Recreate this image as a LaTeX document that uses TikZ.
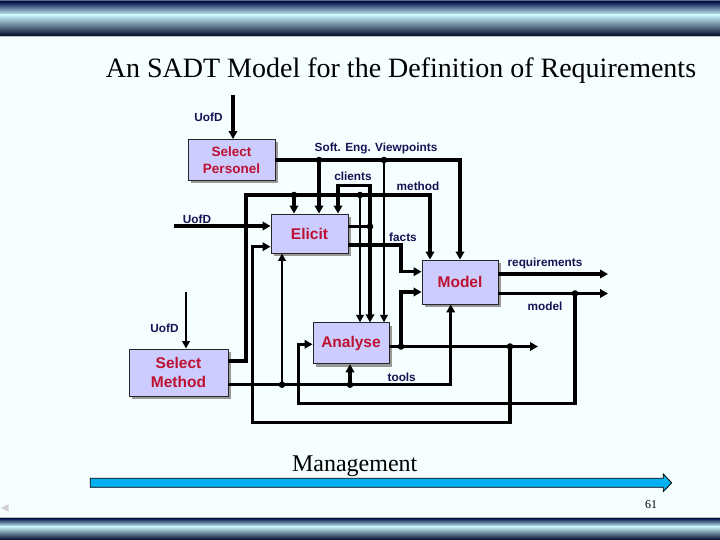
\documentclass[tikz,border=0pt]{standalone}
\usepackage{fontspec}
\setmainfont{Liberation Serif}
\setsansfont{Liberation Sans}
\usetikzlibrary{arrows.meta,shadows}
\definecolor{bgc}{RGB}{246,255,255}
\definecolor{boxc}{RGB}{204,204,255}
\definecolor{redt}{RGB}{190,16,48}
\definecolor{navyt}{RGB}{20,20,85}
\definecolor{barnavy}{RGB}{10,26,78}
\definecolor{barlight}{RGB}{200,244,250}
\definecolor{bardark}{RGB}{0,8,40}
\definecolor{bargray}{RGB}{95,108,140}
\definecolor{mgmt}{RGB}{0,176,240}
\begin{document}
\begin{tikzpicture}[x=1pt,y=-1pt,
  proc/.style={draw=black!85, line width=0.9pt, fill=boxc, inner sep=0pt, align=center, text=redt,
    font=\sffamily\bfseries\fontsize{15.5}{18.3}\selectfont,
    drop shadow={shadow xshift=3pt, shadow yshift=-3pt, fill=black!40, opacity=1}},
  lbl/.style={text=navyt, font=\sffamily\bfseries\fontsize{11.8}{13}\selectfont, inner sep=0pt, text height=8.5pt, text depth=0pt},
  con/.style={line width=3.2pt, -{Triangle[length=8pt,width=8.5pt]}},
  conthin/.style={line width=2.2pt, -{Triangle[length=7.5pt,width=7.5pt]}},
  wire/.style={line width=3.2pt},
  dot/.style={fill=black},
]
\useasboundingbox (0,0) rectangle (720,540);
\fill[bgc] (0,0) rectangle (720,540);
% top bar
\fill[bargray] (0,0) rectangle (720,2);
\shade[top color=barnavy, bottom color=barlight] (0,2) rectangle (720,15);
\shade[top color=barlight, bottom color=bardark] (0,15) rectangle (720,36);
\fill[black!25] (0,36) rectangle (720,37.5);
% bottom bar
\fill[black!25] (0,517) rectangle (720,518.5);
\shade[top color=barnavy, bottom color=barlight] (0,518.5) rectangle (720,526.5);
\shade[top color=barlight, bottom color=bardark] (0,526.5) rectangle (720,540);
\fill[black!18] (1,507.8) -- (8.5,504) -- (8.5,511.7) -- cycle;

% title
\node[anchor=base, inner sep=0pt, font=\fontsize{28}{32}\selectfont] (title) at (401,78) {An SADT Model for the Definition of Requirements};

% boxes
\node[proc, minimum width=87pt, minimum height=41pt, font=\sffamily\bfseries\fontsize{13.5}{16.7}\selectfont] (SP) at (231.5,160) {Select\\Personel};
\node[proc, minimum width=77pt, minimum height=39pt] (EL) at (309.5,233.5) {Elicit};
\node[proc, minimum width=76pt, minimum height=44pt] (MO) at (460,282) {Model};
\node[proc, minimum width=76pt, minimum height=41pt] (AN) at (351,343.3) {Analyse};
\node[proc, minimum width=99pt, minimum height=47pt] (SM) at (178.5,372.5) {Select\\Method};

% labels
\node[lbl] (lU1) at (208.5,117) {UofD};
\node[lbl] (lSEV) at (376,147.7) {Soft. Eng. Viewpoints};
\node[lbl] (lcl) at (353,176.7) {clients};
\node[lbl] (lme) at (418,186.7) {method};
\node[lbl] (lU2) at (197,219.3) {UofD};
\node[lbl] (lfa) at (403,237.7) {facts};
\node[lbl] (lrq) at (545,262.7) {requirements};
\node[lbl] (lmo) at (545,306) {model};
\node[lbl] (lU3) at (164.5,328.3) {UofD};
\node[lbl] (lto) at (401.7,377.3) {tools};

% coordinates
\coordinate (u1) at (233,95);
\coordinate (u2) at (174,226);
\coordinate (u3) at (186,292);
\coordinate (sev1) at (319,160);
\coordinate (sev2) at (384,160);
\coordinate (sevc) at (460,160);
\coordinate (mA) at (246,361);
\coordinate (mB) at (246,195);
\coordinate (met1) at (294,195);
\coordinate (met2) at (360,195);
\coordinate (mC) at (430,195);
\coordinate (cli) at (370,226.5);
\coordinate (cA) at (370,185.3);
\coordinate (cB) at (338,185.3);
\coordinate (fA) at (401,245);
\coordinate (fB) at (401,271.7);
\coordinate (aE) at (538,346.5);
\coordinate (an1) at (401,346.5);
\coordinate (aA) at (401,292);
\coordinate (an2) at (510,346.5);
\coordinate (bA) at (510,422.3);
\coordinate (bB) at (252.7,422.3);
\coordinate (bC) at (252.7,246.7);
\coordinate (rq) at (608,274);
\coordinate (md) at (608,293.5);
\coordinate (mod1) at (575,293.5);
\coordinate (mdA) at (575,403.3);
\coordinate (mdB) at (298.3,403.3);
\coordinate (mdC) at (298.3,344.3);
\coordinate (sA) at (450.7,384.7);
\coordinate (sm1) at (282,384.7);
\coordinate (sm2) at (350,384.7);

% connectors
\draw[con] (u1) -- (u1 |- SP.north);
\draw[con] (u2) -- (u2 -| EL.west);
\draw[conthin] (u3) -- (u3 |- SM.north);
% soft eng viewpoints
\draw[con] (SP.east |- sevc) -- (sevc) -- (sevc |- MO.north);
\draw[con] (sev1) -- (sev1 |- EL.north);
\draw[conthin] (sev2) -- (sev2 |- AN.north);
% method
\draw[con] (SM.east |- mA) -- (mA) -- (mB) -- (mC) -- (mC |- MO.north);
\draw[con] (met1) -- (met1 |- EL.north);
\draw[conthin] (met2) -- (met2 |- AN.north);
% clients
\draw[wire] (EL.east |- cli) -- (cli);
\draw[con] (cli) -- (cA) -- (cB) -- (cB |- EL.north);
\draw[con] (cli) -- (cli |- AN.north);
% facts
\draw[con] (EL.east |- fA) -- (fA) -- (fB) -- (fB -| MO.west);
% analyse output
\draw[con] (AN.east |- aE) -- (aE);
\draw[con] (an1) -- (aA) -- (aA -| MO.west);
\draw[con] (an2) -- (bA) -- (bB) -- (bC) -- (bC -| EL.west);
% model outputs
\draw[con] (MO.east |- rq) -- (rq);
\draw[con] (MO.east |- md) -- (md);
\draw[con] (mod1) -- (mdA) -- (mdB) -- (mdC) -- (mdC -| AN.west);
% select method tools
\draw[con] (SM.east |- sA) -- (sA) -- (sA |- MO.south);
\draw[conthin] (sm1) -- (sm1 |- EL.south);
\draw[con] (sm2) -- (sm2 |- AN.south);

% junction dots
\foreach \p in {sev1,sev2,met1,met2,cli,an1,an2,mod1,sm1,sm2}
  \fill[dot] (\p) circle (3.3);

% management arrow
\draw[fill=mgmt, line width=0.8pt, line join=miter]
  (90.3,478.3) -- (663.3,478.3) -- (663.3,474) -- (671.7,482.8) -- (663.3,491.6) -- (663.3,487.3) -- (90.3,487.3) -- cycle;
\node[anchor=base, inner sep=0pt, font=\fontsize{24}{28}\selectfont] (mg) at (354.7,471.7) {Management};
\node[anchor=base, inner sep=0pt, font=\fontsize{12}{14}\selectfont] (pg) at (651,508) {61};
\end{tikzpicture}
\end{document}
